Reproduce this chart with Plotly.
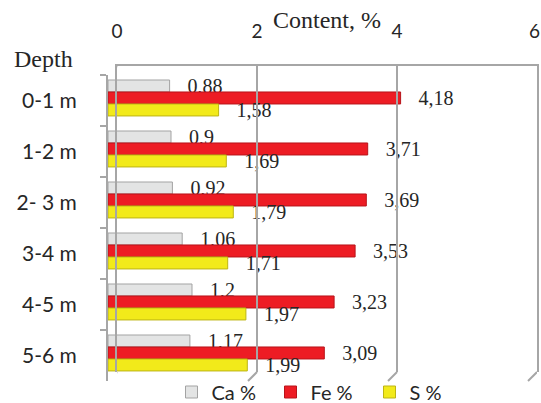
import plotly.graph_objects as go

depths = ["0-1 m", "1-2 m", "2- 3 m", "3-4 m", "4-5 m", "5-6 m"]
ca = [0.88, 0.9, 0.92, 1.06, 1.2, 1.17]
fe = [4.18, 3.71, 3.69, 3.53, 3.23, 3.09]
s = [1.58, 1.69, 1.79, 1.71, 1.97, 1.99]
x_ticks = [0, 2, 4, 6]
x_tick_labels = ["0", "2", "4", "6\u00a0"]

series_names = ["Ca %", "Fe %", "S %"]
series_values = [ca, fe, s]

# styles: fill, edge, label padding (nbsp count), bar offset (category units)
styles = [
    ("#E3E4E4", "#a3a3a3", 3, -0.402),
    ("#ED1C24", "#b8141a", 3, -0.167),
    ("#F2EA1A", "#bdb514", 3, 0.068),
]
BAR_W = 0.235

W, H = 541, 403
L, R, T, B = 108, 4, 66, 22
PW, PH = W - L - R, H - T - B
D = 9  # 3D depth offset in px

SANS = "Lato"
SERIF = "Liberation Serif"
GRID = "#A6A6A6"
TXT = "#262626"


def px_x(page_x):
    return (page_x - L) / PW


def px_y(page_y):
    return (H - B - page_y) / PH


fig = go.Figure()
for name, vals, (col, edge, pad, off) in zip(series_names, series_values, styles):
    fig.add_trace(go.Bar(
        y=depths, x=vals, name=name, orientation="h",
        offset=off, width=BAR_W,
        marker=dict(color=col, line=dict(color=edge, width=1)),
        text=["\u00a0" * pad + f"{v:g}".replace(".", ",") for v in vals],
        texttemplate="%{text}", textposition="outside",
        constraintext="none", cliponaxis=False,
        textfont=dict(family=SERIF, size=20, color=TXT),
        xaxis="x", yaxis="y",
    ))

shapes = []
shapes.append(dict(type="line", xref="x2", xsizemode="pixel", xanchor=0, x0=0, x1=-D,
                   yref="paper", ysizemode="pixel", yanchor=1, y0=0, y1=-D,
                   line=dict(color=GRID, width=2), layer="below"))
for v in x_ticks:
    shapes.append(dict(type="line", xref="x2", xsizemode="pixel", xanchor=v, x0=0, x1=-D,
                       yref="paper", ysizemode="pixel", yanchor=D / PH, y0=0, y1=-D,
                       line=dict(color=GRID, width=2), layer="below"))

fig.update_layout(
    width=W, height=H,
    margin=dict(l=L, r=R, t=T, b=B, autoexpand=False),
    paper_bgcolor="white", plot_bgcolor="rgba(0,0,0,0)",
    barmode="overlay",
    showlegend=True,
    legend=dict(orientation="h", x=px_x(320), xanchor="center",
                y=px_y(392), yanchor="middle",
                font=dict(family=SANS, size=20, color=TXT),
                itemwidth=30, entrywidth=54, traceorder="normal",
                bgcolor="rgba(0,0,0,0)"),
    xaxis=dict(domain=[0, (PW - D) / PW], range=[0, 6], anchor="y",
               visible=False, showgrid=False, zeroline=False),
    yaxis=dict(domain=[0, (PH - D) / PH], anchor="x", type="category",
               autorange="reversed", showline=True, linecolor=GRID, linewidth=2,
               ticks="outside", tickson="boundaries", ticklen=6, tickcolor=GRID,
               tickwidth=2, ticklabelstandoff=25, showgrid=False, zeroline=False,
               tickfont=dict(family=SANS, size=21, color=TXT)),
    xaxis2=dict(domain=[D / PW, 1], range=[0, 6.0001], anchor="y2", side="top",
                tickvals=x_ticks, ticktext=x_tick_labels,
                showgrid=True, gridcolor=GRID, gridwidth=2, zeroline=False,
                showline=True, linecolor=GRID, linewidth=2, ticks="",
                ticklabelstandoff=18, ticklabeloverflow="allow",
                tickfont=dict(family=SANS, size=19, color=TXT)),
    yaxis2=dict(domain=[D / PH, 1], range=[0, 1], anchor="x2", showline=True,
                mirror=True, linecolor=GRID, linewidth=2, showticklabels=False,
                showgrid=False, zeroline=False, ticks=""),
    shapes=shapes,
    annotations=[
        dict(text="Content, %", xref="x2", x=3.0, xanchor="center",
             yref="paper", y=px_y(20), yanchor="middle",
             showarrow=False, font=dict(family=SERIF, size=24, color=TXT)),
        dict(text="Depth", xref="paper", x=px_x(43), xanchor="center",
             yref="paper", y=px_y(59), yanchor="middle",
             showarrow=False, font=dict(family=SERIF, size=24, color=TXT)),
    ],
)

fig.write_html("out.html", config={"displayModeBar": False},
               post_script="document.body.style.margin='0';")
